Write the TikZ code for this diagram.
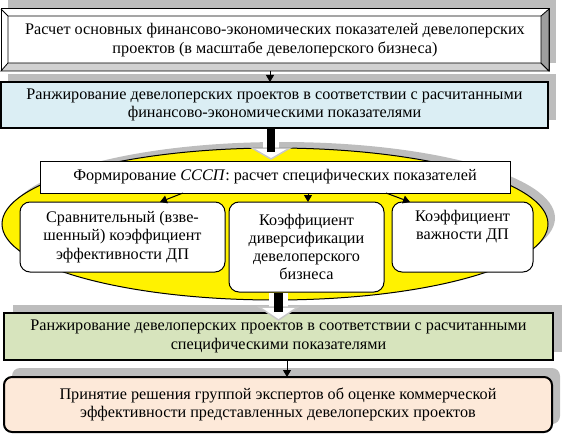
\documentclass[tikz,border=0pt]{standalone}
\usepackage{fontspec}
\setmainfont{Liberation Serif}
\usetikzlibrary{arrows.meta,shapes.geometric}
\definecolor{bluefill}{HTML}{DBEEF4}
\definecolor{greenfill}{HTML}{D7E4BD}
\definecolor{pinkfill}{HTML}{FDE9D9}
\definecolor{shadowgray}{HTML}{BDBDBD}
\begin{document}
\begin{tikzpicture}[x=1pt,y=-1pt,
  every node/.style={font=\fontsize{16.2}{18.3}\selectfont, align=center, inner sep=0pt, outer sep=0pt},
  shadowfill/.style={fill=shadowgray, draw=none},
  thickbox/.style={draw, line width=2pt},
  thinbox/.style={draw, line width=1pt, fill=white},
  arr/.style={line width=1pt, -{Triangle[length=7pt,width=8pt]}},
  blockhead/.style={fill=white, draw=black!22, line width=1.5pt, line join=miter}]
\useasboundingbox (0,0) rectangle (563,436);
% shadows
\fill[shadowfill] (8,0) rectangle (556,63);
\fill[shadowfill] (8,74) rectangle (556,120);
\fill[shadowfill] (282,218) ellipse [x radius=273, y radius=76];
\fill[shadowfill] (13,305) rectangle (562,352);
\fill[shadowfill, rounded corners=8] (12,368) rectangle (560,424);
% top bevel box
\node[thinbox, minimum width=548, minimum height=62] (top) at (275,40)
  {Расчет основных финансово-экономических показателей девелоперских\\проектов (в масштабе девелоперского бизнеса)};
\filldraw[fill=black!18, line width=0.8pt] (top.south west) -- (top.south east) -- (541,63) -- (8,63) -- cycle;
\filldraw[fill=black!38, line width=0.8pt] (top.north east) -- (top.south east) -- (541,63) -- (541,16) -- cycle;
\draw[line width=0.8pt] (top.north west) -- (8,16) -- (541,16) (8,16) -- (8,63);
% second box
\node[thickbox, fill=bluefill, minimum width=547, minimum height=46] (rank1) at (274.5,105)
  {Ранжирование девелоперских проектов в соответствии с расчитанными\\финансово-экономическими показателями};
\draw[arr] (top.south -| 270,0) -- (rank1.north -| 270,0);
% oval
\node[ellipse, draw, line width=1pt, fill=yellow, minimum width=546, minimum height=152] (oval) at (275,224) {};
% block arrow 1
\fill[white] (263,129) rectangle (279,149);
\filldraw[blockhead] (252,148) -- (290,148) -- (271,159) -- cycle;
\fill[black] (267,129) rectangle (275,152);
% formation box
\node[thinbox, minimum width=470, minimum height=32] (form) at (275,177)
  {Формирование \textit{СССП}: расчет специфических показателей};
% three boxes
\node[thinbox, rounded corners=10, minimum width=205, minimum height=70] (ka) at (122.5,237)
  {Сравнительный (взве-\\шенный) коэффициент\\эффективности ДП};
\node[thinbox, rounded corners=10, minimum width=155, minimum height=90] (kb) at (306.5,247)
  {Коэффициент\\диверсификации\\девелоперского\\бизнеса};
\node[thinbox, rounded corners=10, minimum width=141, minimum height=70] (kc) at (462.5,237)
  {Коэффициент\\важности ДП\\\strut};
\draw[arr] (form.south -| 183,0) -- (ka.north -| 160,0);
\draw[arr] (form.south -| 308,0) -- (kb.north -| 308,0);
\draw[arr] (form.south -| 386,0) -- (kc.north -| 410,0);
% green box
\node[thickbox, fill=greenfill, minimum width=549, minimum height=47] (rank2) at (278.5,336.5)
  {Ранжирование девелоперских проектов в соответствии с расчитанными\\специфическими показателями};
% block arrow 2
\fill[white] (269,293) rectangle (288,308);
\filldraw[blockhead] (259,307) -- (298,307) -- (278.5,320) -- cycle;
\fill[black] (274,293) rectangle (283,312);
% decision box
\node[thickbox, fill=pinkfill, rounded corners=8, minimum width=548, minimum height=55] (dec) at (278,404.5)
  {Принятие решения группой экспертов об оценке коммерческой\\эффективности представленных девелоперских проектов};
\draw[arr] (rank2.south -| 287,0) -- (dec.north -| 287,0);
\end{tikzpicture}
\end{document}
